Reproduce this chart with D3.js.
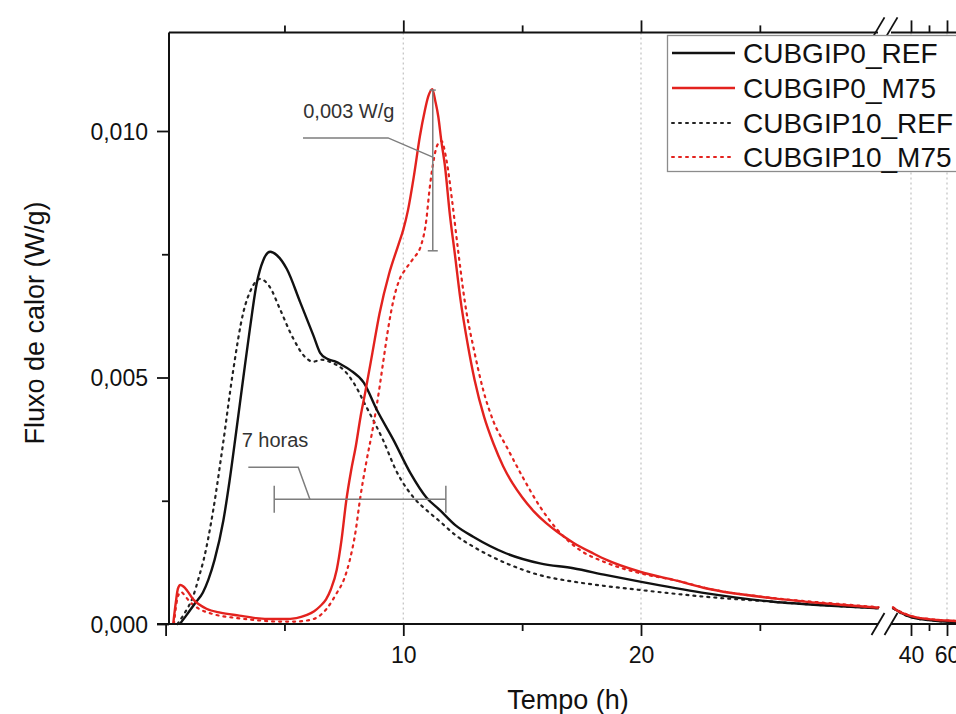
<!DOCTYPE html>
<html>
<head>
<meta charset="utf-8">
<script src="https://cdn.jsdelivr.net/npm/d3@7"></script>
<style>
  body { margin: 0; background: #fff; }
  text { font-family: "Liberation Sans", Arial, sans-serif; fill: #111; }
</style>
</head>
<body>
<div id="chart"></div>
<script>
// heat flow curves, [time (h), flux (W/g)]
var cubgip0Ref = [[0.6,0],[0.88,0.00018],[1.24,0.00042],[1.57,0.00064],[1.8,0.0009],[2.06,0.0013],[2.43,0.0021],[2.69,0.0029],[2.97,0.0039],[3.27,0.005],[3.55,0.006],[3.83,0.0069],[4.11,0.00738],[4.4,0.00755],[4.68,0.00748],[5.1,0.0072],[5.66,0.00653],[6.22,0.00585],[6.5,0.0055],[6.8,0.00538],[7.1,0.00533],[7.4,0.00526],[7.77,0.00515],[8.33,0.0049],[8.89,0.00434],[9.59,0.00373],[10.3,0.00306],[10.98,0.00256],[11.54,0.00231],[12.2,0.002],[12.94,0.00177],[14.34,0.00143],[15.75,0.00123],[17.15,0.00113],[18.55,0.00099],[19.96,0.00086],[22.77,0.00062],[25.57,0.00045],[28,0.00037],[30,0.00032],[33,0.00026],[36,0.0002],[40,0.00014],[45,0.0001],[50,0.00008],[55,0.00006],[60,0.00005],[70,0.00004]];

var cubgip0M75 = [[0.32,0],[0.42,0.0004],[0.52,0.00072],[0.62,0.00079],[0.75,0.00076],[0.9,0.00068],[1.16,0.0005],[1.4,0.0004],[1.72,0.00031],[2.3,0.00023],[3.1,0.00017],[3.8,0.00012],[4.5,0.0001],[5.0,0.0001],[5.5,0.00012],[5.92,0.00018],[6.25,0.00026],[6.5,0.00036],[6.75,0.0005],[6.95,0.0007],[7.2,0.0011],[7.4,0.0017],[7.6,0.0025],[7.8,0.0031],[8.0,0.0036],[8.2,0.0042],[8.4,0.0047],[8.7,0.0055],[9.0,0.0063],[9.4,0.0071],[9.8,0.0077],[10.0,0.008],[10.2,0.0084],[10.45,0.0091],[10.7,0.0099],[10.9,0.0104],[11.05,0.0107],[11.22,0.01085],[11.35,0.0106],[11.47,0.0103],[11.6,0.0098],[11.75,0.0093],[11.96,0.0083],[12.17,0.0075],[12.4,0.0066],[12.7,0.0057],[13.0,0.00495],[13.4,0.0042],[13.8,0.00365],[14.2,0.0032],[14.6,0.00285],[15.0,0.00257],[15.5,0.00228],[16.0,0.00205],[16.5,0.00186],[17.15,0.00165],[18.0,0.00143],[18.55,0.0013],[19.96,0.00106],[21.5,0.00088],[22.77,0.00072],[25.6,0.00052],[28.4,0.00039],[30,0.00033],[33,0.00026],[36,0.00021],[40,0.00016],[45,0.00012],[50,0.0001],[55,0.00008],[60,0.00007],[70,0.00005]];

var cubgip10Ref = [[0.5,0],[0.8,0.00022],[1.15,0.00055],[1.43,0.001],[1.6,0.0013],[2.0,0.0023],[2.4,0.0036],[2.83,0.0051],[3.26,0.0063],[3.61,0.0068],[3.96,0.007],[4.38,0.00684],[4.8,0.0064],[5.36,0.0058],[5.9,0.0054],[6.2,0.00532],[6.55,0.00536],[7.0,0.0053],[7.5,0.00515],[7.9,0.0049],[8.45,0.0044],[9.15,0.00373],[9.71,0.0031],[10.48,0.00254],[11.0,0.0023],[11.54,0.00208],[12.2,0.0018],[12.94,0.00157],[14.34,0.00123],[15.75,0.00099],[17.15,0.00086],[18.5,0.00077],[19.96,0.00069],[22.77,0.00055],[25.6,0.00045],[28,0.00037],[30,0.00032],[33,0.00025],[36,0.00019],[40,0.00014],[45,0.0001],[50,0.00008],[55,0.00006],[60,0.00005],[70,0.00004]];

var cubgip10M75 = [[0.35,0],[0.45,0.0004],[0.55,0.0006],[0.65,0.00065],[0.8,0.00058],[1.0,0.00046],[1.4,0.00031],[2.0,0.0002],[3.0,0.00012],[4.0,0.00007],[4.66,0.00005],[5.4,0.00005],[6.06,0.00008],[6.4,0.00014],[6.76,0.0003],[7.19,0.00062],[7.5,0.0009],[7.75,0.0013],[8.0,0.0019],[8.17,0.0025],[8.45,0.0033],[8.73,0.004],[9.0,0.0048],[9.15,0.0053],[9.4,0.0061],[9.6,0.0066],[9.85,0.007],[10.1,0.0072],[10.4,0.0074],[10.76,0.0077],[10.97,0.0082],[11.1,0.0088],[11.24,0.0093],[11.42,0.0097],[11.6,0.0098],[11.82,0.0094],[12.05,0.0086],[12.3,0.0076],[12.6,0.0065],[13.0,0.0055],[13.36,0.00475],[13.8,0.0041],[14.34,0.0036],[15.0,0.003],[15.75,0.00238],[16.5,0.0019],[17.43,0.0015],[18.5,0.00125],[19.96,0.00103],[21.5,0.00088],[23,0.0007],[25.5,0.00053],[28.5,0.0004],[30,0.00034],[33,0.00027],[36,0.00022],[40,0.00016],[45,0.00012],[50,0.0001],[55,0.00008],[60,0.00007],[70,0.00005]];

var seriesNames = ["CUBGIP0_REF", "CUBGIP0_M75", "CUBGIP10_REF", "CUBGIP10_M75"];
var seriesColors = ["#111111", "#e3221e", "#222222", "#e3221e"];
var seriesDotted = [false, false, true, true];
var seriesData = [cubgip0Ref, cubgip0M75, cubgip10Ref, cubgip10M75];

var yMajor = [0, 0.005, 0.010];
var yMinor = [0.0025, 0.0075];
var xMajor1 = [0, 10, 20];
var xMinor1 = [5, 15, 25];
var xMajor2 = [40, 60];
var xMinor2 = [50];
var gridX1 = [10, 20];
var gridX2 = [40, 60];

// annotations: [time, flux]
var peakBar = [[11.24, 0.01083], [11.24, 0.00757]];
var peakLeader = [[5.78, 0.00986], [9.36, 0.00986], [11.24, 0.00947]];
var peakLabel = [5.79, 0.01026, "0,003 W/g"];
var hoursBar = [[4.57, 0.00253], [11.79, 0.00253]];
var hoursLeader = [[3.48, 0.00318], [5.58, 0.00318], [6.07, 0.00253]];
var hoursLabel = [3.2, 0.0036, "7 horas"];

var width = 956, height = 714;

var svg = d3.select("#chart")
    .append("svg")
    .attr("width", width)
    .attr("height", height)

var x1 = d3.scaleLinear().domain([0, 30]).range([165.6, 878.7])
var x2 = d3.scaleLinear().domain([30, 60]).range([893, 947])
var y = d3.scaleLinear().domain([0, 0.012]).range([624, 32.4])

var yAxisX = 169, breakL = 878, breakR = 891;
var grey = "#7d7d7d";

// gridlines
svg.append("g").selectAll("line")
    .data(gridX1.map(function(d) { return x1(d) }).concat(gridX2.map(function(d) { return x2(d) })))
    .enter().append("line")
    .attr("x1", function(d) { return d }).attr("x2", function(d) { return d })
    .attr("y1", y(0.012)).attr("y2", y(0))
    .attr("stroke", "#c6c6c6").attr("stroke-width", 1.3).attr("stroke-dasharray", "2,3")

// curves
var line1 = d3.line().x(function(d) { return x1(d[0]) }).y(function(d) { return y(d[1]) }).curve(d3.curveMonotoneX)
var line2 = d3.line().x(function(d) { return x2(d[0]) }).y(function(d) { return y(d[1]) }).curve(d3.curveMonotoneX)

var order = [2, 3, 0, 1];
order.forEach(function(i) {
    var seg1 = seriesData[i].filter(function(d) { return d[0] <= 30 })
    var seg2 = seriesData[i].filter(function(d) { return d[0] >= 30 })
    ;[[seg1, line1], [seg2, line2]].forEach(function(p) {
        svg.append("path")
            .attr("d", p[1](p[0]))
            .attr("fill", "none")
            .attr("stroke", seriesColors[i])
            .attr("stroke-width", seriesDotted[i] ? 2.2 : 2.4)
            .attr("stroke-dasharray", seriesDotted[i] ? "2,5" : null)
            .attr("stroke-linecap", seriesDotted[i] ? "round" : "butt")
    })
})

// axes
function fmtY(d) { return d3.format(".3f")(d).replace(".", ",") }

function styleAxis(g) {
    g.select(".domain").remove()
    g.selectAll(".tick line").attr("stroke", "#111").attr("stroke-width", 1.8)
    g.selectAll(".tick text").attr("fill", "#111").style("font-size", "23px")
        .style("font-family", "'Liberation Sans', Arial, sans-serif")
}

var gy = svg.append("g").attr("transform", "translate(" + yAxisX + ",0)")
    .call(d3.axisLeft(y).tickValues(yMajor).tickSize(12).tickSizeOuter(0).tickPadding(9).tickFormat(fmtY))
styleAxis(gy)
gy.selectAll(".tick text").attr("dy", "0.36em")
svg.append("g").attr("transform", "translate(" + yAxisX + ",0)")
    .call(d3.axisLeft(y).tickValues(yMinor).tickSize(7).tickSizeOuter(0).tickFormat(""))
    .call(styleAxis)

var gb1 = svg.append("g").attr("transform", "translate(0," + y(0) + ")")
    .call(d3.axisBottom(x1).tickValues(xMajor1).tickSize(12).tickSizeOuter(0).tickPadding(11)
        .tickFormat(function(d) { return d === 0 ? "" : d }))
styleAxis(gb1)
svg.append("g").attr("transform", "translate(0," + y(0) + ")")
    .call(d3.axisBottom(x1).tickValues(xMinor1).tickSize(7).tickSizeOuter(0).tickFormat(""))
    .call(styleAxis)
svg.append("g").attr("transform", "translate(0," + y(0) + ")")
    .call(d3.axisBottom(x2).tickValues(xMajor2).tickSize(12).tickSizeOuter(0).tickPadding(11))
    .call(styleAxis)
svg.append("g").attr("transform", "translate(0," + y(0) + ")")
    .call(d3.axisBottom(x2).tickValues(xMinor2).tickSize(7).tickSizeOuter(0).tickFormat(""))
    .call(styleAxis)

// top axis, ticks only
svg.append("g").attr("transform", "translate(0," + y(0.012) + ")")
    .call(d3.axisTop(x1).tickValues([10, 20]).tickSize(12).tickSizeOuter(0).tickFormat(""))
    .call(styleAxis)
svg.append("g").attr("transform", "translate(0," + y(0.012) + ")")
    .call(d3.axisTop(x1).tickValues(xMinor1).tickSize(7).tickSizeOuter(0).tickFormat(""))
    .call(styleAxis)
svg.append("g").attr("transform", "translate(0," + y(0.012) + ")")
    .call(d3.axisTop(x2).tickValues(xMajor2).tickSize(12).tickSizeOuter(0).tickFormat(""))
    .call(styleAxis)
svg.append("g").attr("transform", "translate(0," + y(0.012) + ")")
    .call(d3.axisTop(x2).tickValues(xMinor2).tickSize(7).tickSizeOuter(0).tickFormat(""))
    .call(styleAxis)

// axis lines with break
var frame = svg.append("g").attr("stroke", "#111").attr("stroke-width", 2).attr("fill", "none")
frame.append("line").attr("x1", yAxisX).attr("x2", yAxisX).attr("y1", y(0.012)).attr("y2", y(0) + 1)
frame.append("line").attr("x1", 157).attr("x2", breakL).attr("y1", y(0)).attr("y2", y(0))
frame.append("line").attr("x1", breakR).attr("x2", width).attr("y1", y(0)).attr("y2", y(0))
frame.append("line").attr("x1", yAxisX).attr("x2", breakL).attr("y1", y(0.012)).attr("y2", y(0.012))
frame.append("line").attr("x1", breakR).attr("x2", width).attr("y1", y(0.012)).attr("y2", y(0.012))

;[[y(0), 0], [y(0.012), -4]].forEach(function(p) {
    [breakL, breakR].forEach(function(cx) {
        frame.append("line")
            .attr("x1", cx - 6.5).attr("y1", p[0] + p[1] + 11)
            .attr("x2", cx + 6.5).attr("y2", p[0] + p[1] - 11)
            .attr("stroke-width", 1.8)
    })
})

// axis titles
svg.append("text")
    .attr("x", 568).attr("y", 709)
    .attr("text-anchor", "middle")
    .style("font-size", "27px")
    .text("Tempo (h)")

svg.append("text")
    .attr("transform", "translate(44,323) rotate(-90)")
    .attr("text-anchor", "middle")
    .style("font-size", "27px")
    .text("Fluxo de calor (W/g)")

// annotations
var ann = d3.line().x(function(d) { return x1(d[0]) }).y(function(d) { return y(d[1]) })
var ag = svg.append("g").attr("stroke", grey).attr("stroke-width", 1.5).attr("fill", "none")
ag.append("path").attr("d", ann(peakBar))
ag.append("path").attr("d", ann(peakLeader))
ag.append("line")
    .attr("x1", x1(peakBar[1][0]) - 5).attr("x2", x1(peakBar[1][0]) + 5)
    .attr("y1", y(peakBar[1][1])).attr("y2", y(peakBar[1][1]))
ag.append("line")
    .attr("x1", x1(peakBar[0][0]) - 3).attr("x2", x1(peakBar[0][0]) + 3)
    .attr("y1", y(peakBar[0][1])).attr("y2", y(peakBar[0][1]))
ag.append("path").attr("d", ann(hoursBar))
ag.append("path").attr("d", ann(hoursLeader))
hoursBar.forEach(function(d) {
    ag.append("line")
        .attr("x1", x1(d[0])).attr("x2", x1(d[0]))
        .attr("y1", y(d[1]) - 13.5).attr("y2", y(d[1]) + 13.5)
})

svg.append("text")
    .attr("x", x1(peakLabel[0])).attr("y", y(peakLabel[1]))
    .style("font-size", "20px").style("fill", "#333")
    .text(peakLabel[2])
svg.append("text")
    .attr("x", x1(hoursLabel[0])).attr("y", y(hoursLabel[1]))
    .style("font-size", "20px").style("fill", "#333")
    .text(hoursLabel[2])

// legend
var legend = svg.append("g")
legend.append("rect")
    .attr("x", 667.5).attr("y", 35.5).attr("width", 300).attr("height", 136)
    .attr("fill", "#fff").attr("stroke", "#8c8c8c").attr("stroke-width", 1.3)

var rowsY = [53, 88, 123, 157];
seriesNames.forEach(function(name, i) {
    legend.append("line")
        .attr("x1", 672).attr("x2", 735)
        .attr("y1", rowsY[i]).attr("y2", rowsY[i])
        .attr("stroke", seriesColors[i])
        .attr("stroke-width", seriesDotted[i] ? 2 : 2.5)
        .attr("stroke-dasharray", seriesDotted[i] ? "2,5" : null)
        .attr("stroke-linecap", seriesDotted[i] ? "round" : "butt")
    legend.append("text")
        .attr("x", 743).attr("y", rowsY[i] + 10)
        .style("font-size", "28px")
        .text(name)
})
</script>
</body>
</html>
